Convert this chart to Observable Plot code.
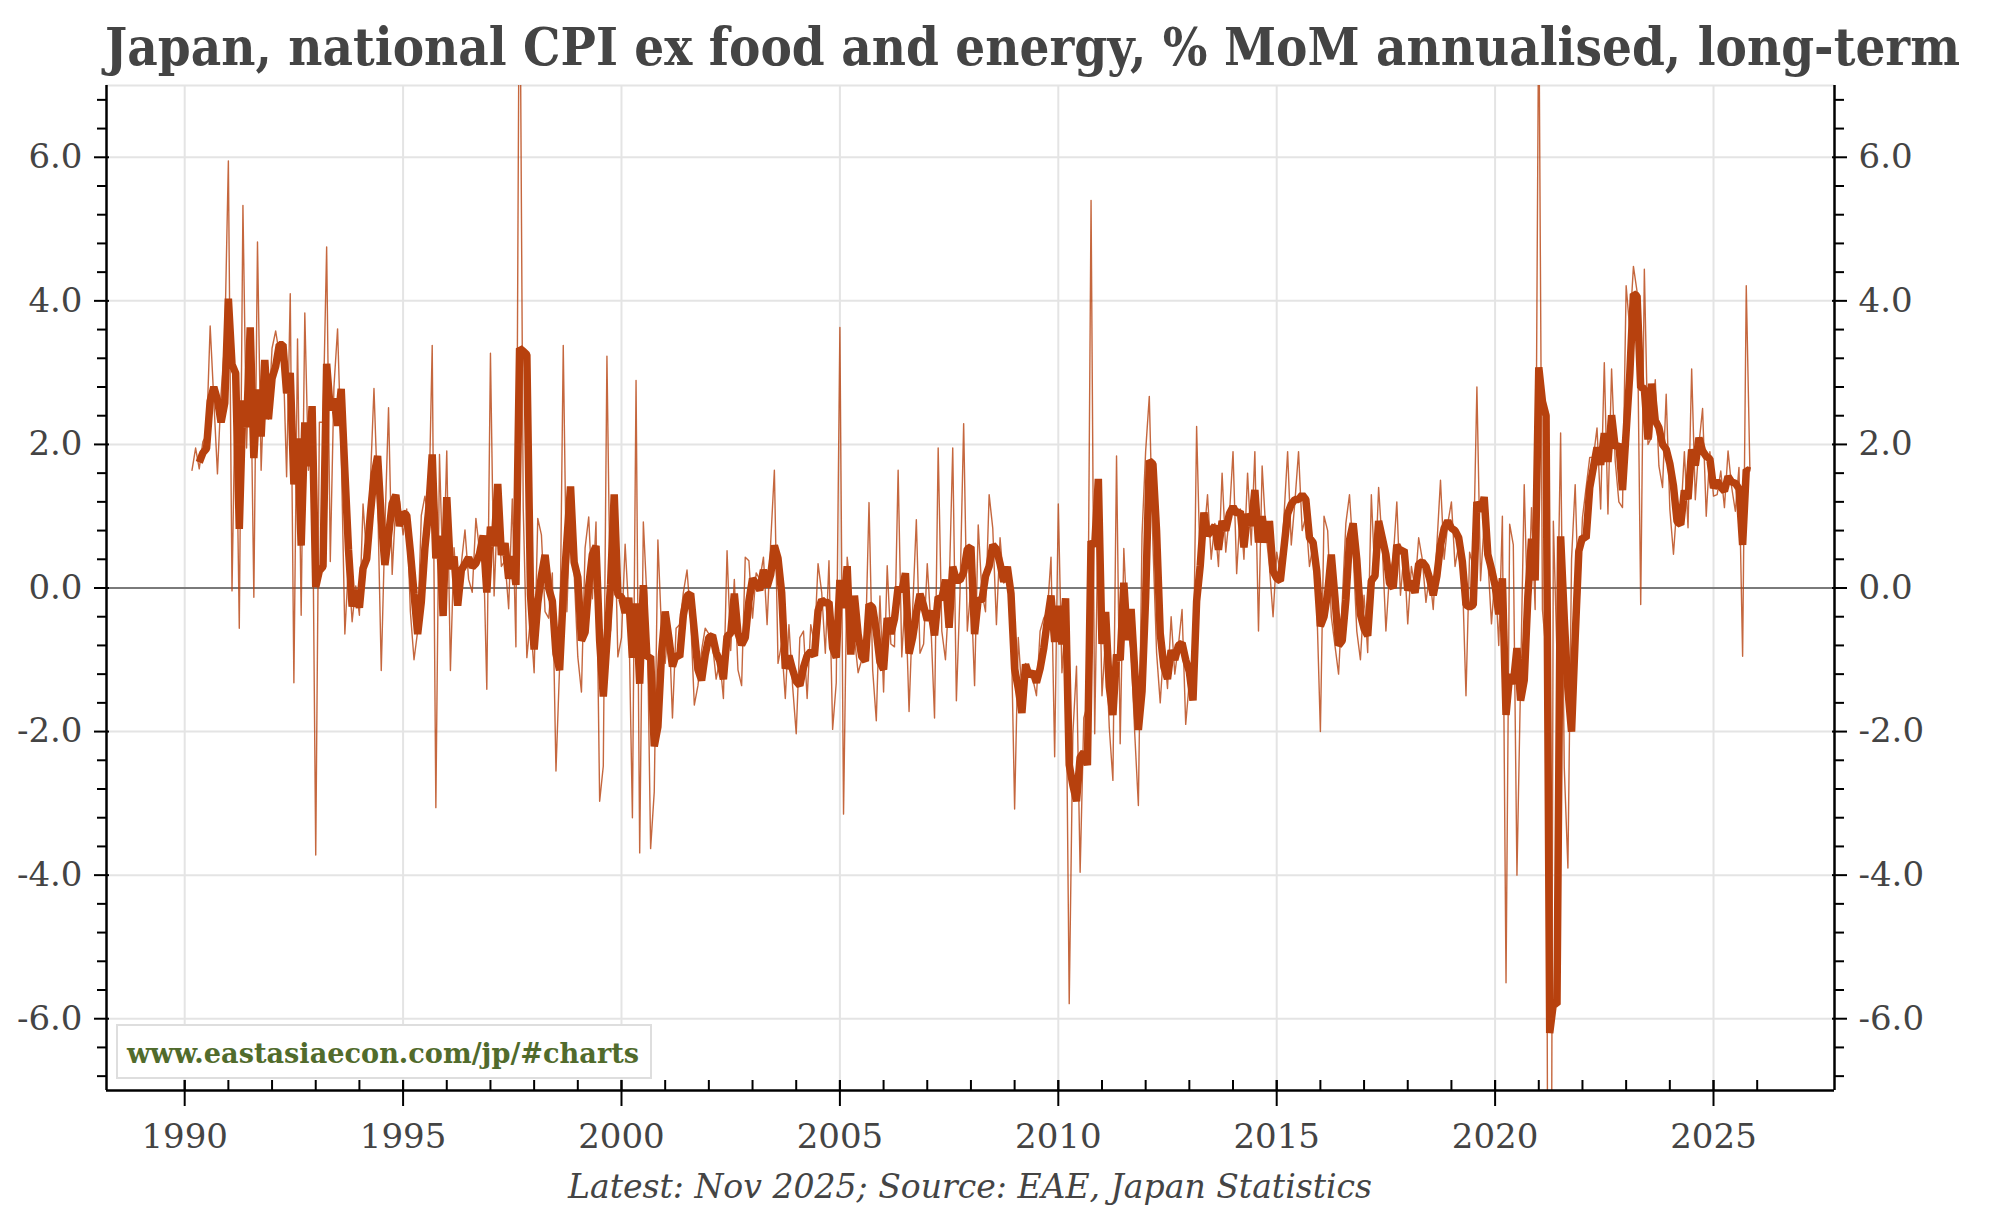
<!DOCTYPE html>
<html>
<head>
<meta charset="utf-8">
<script src="https://cdn.jsdelivr.net/npm/d3@7"></script>
<script src="https://cdn.jsdelivr.net/npm/@observablehq/plot@0.6"></script>
<style>
  html, body { margin: 0; padding: 0; background: #fff; }
  #wrap { position: relative; width: 2000px; height: 1212px; overflow: hidden; font-family: "DejaVu Serif", serif; }
  #title { position: absolute; left: 105px; top: 21px; white-space: nowrap; font-weight: bold; font-size: 52px; line-height: 1; color: #444; transform-origin: left top; display: inline-block; }
  #chart { position: absolute; left: 0; top: 80px; }
  #caption { position: absolute; left: 568px; top: 1170px; white-space: nowrap; font-style: italic; font-size: 33px; line-height: 1; color: #444; transform-origin: left top; display: inline-block; }
  #wm { position: absolute; left: 116px; top: 1024px; width: 536px; height: 55px; box-sizing: border-box; border: 2px solid #dedede; background: #fff; }
  #wmtext { position: absolute; left: 9px; top: 14px; white-space: nowrap; font-weight: bold; font-size: 27px; line-height: 1; color: #516b2c; transform-origin: left top; display: inline-block; }
</style>
</head>
<body>
<div id="wrap">
  <div id="title"></div>
  <div id="chart"></div>
  <div id="wm"><span id="wmtext"></span></div>
  <div id="caption"></div>
</div>
<script>
const titleText = "Japan, national CPI ex food and energy, % MoM annualised, long-term";
const captionText = "Latest: Nov 2025; Source: EAE, Japan Statistics";
const watermarkText = "www.eastasiaecon.com/jp/#charts";

// Monthly series, first value = Mar 1990, last = Nov 2025
const startYear = 1990;
const startMonth = 3;
const mom = [
  1.64, 1.95, 1.66, 2.04, 2.13, 3.65, 2.62, 1.59, 2.71, 3.43,
  5.95, -0.04, 3.07, -0.56, 5.33, 1.95, 3.61, -0.13, 4.82, 1.64,
  3.07, 2.35, 3.34, 3.58, 3.25, 3.34, 1.55, 4.10, -1.32, 3.47,
  -0.38, 3.83, 1.64, 2.13, -3.72, 2.31, 2.31, 4.75, 0.37, 2.80,
  3.61, 1.91, -0.64, 0.34, -0.47, 0.03, -0.38, 1.17, 0.43, 1.46,
  2.78, 1.28, -1.15, 0.83, 2.51, 0.19, 1.19, 1.21, 0.74, 1.10,
  -0.33, -1.00, -0.60, 1.01, 1.28, 0.92, 3.38, -3.06, 1.86, 0.03,
  1.91, -1.15, 0.56, -0.15, 0.34, 0.81, 0.12, -0.06, 0.97, 0.52,
  0.70, -1.41, 3.27, -0.11, 1.19, 0.30, 0.38, -0.29,
  1.24, -0.82, 9.6, 1.12, -0.97, -0.42, -1.18, 0.97, 0.74, -0.33,
  -0.42, 0.21, -2.55, -1.09, 3.38, -0.33, 1.19, 0.21, -0.96, -1.45,
  0.56, 0.99, -0.15, 0.92, -2.97, -2.48, 3.23, -0.60, 1.28, -0.96,
  -0.69, 0.61, -0.33, -3.20, 2.89, -3.69, 0.92, -0.15, -3.63, -2.84,
  0.67, -0.60, -1.05, -0.42, -1.81, -0.56, -0.51, -0.06, 0.25, -0.42,
  -1.63, -1.36, -0.87, -0.56, -0.64, -0.78, -1.27, -1.00, -1.54, 0.52,
  -0.87, 0.12, -1.14, -1.36, 0.43, 0.38, -0.42, 0.21, 0.12, 0.43,
  -0.51, 0.65, 1.64, -1.05, -0.78, -1.54, -0.51, -1.36, -2.03, -0.69,
  -0.60, -1.54, -0.51, -0.78, 0.34,
  -0.06, -0.91, 0.38, -1.97, -1.32, 3.63, -3.15, 0.43, -0.06, -0.69,
  -1.18, -1.00, -0.87, 1.19, -1.14, -1.85, -0.11, -1.45, 0.31, -0.78,
  -0.82, 1.64, -0.96, -0.06, -1.72, -0.29, 0.95, -0.91, -0.78, 0.34,
  -0.51, -1.81, 1.95, -0.60, -1.00, -0.06, 1.95, -1.57, -0.06, 2.29,
  -0.60, 0.03, -1.36, 0.88, -0.06, -0.33, 1.30, 0.83, -0.51, 0.70,
  0.07, 0.12, -0.42, -3.08, -0.69, -1.45, -1.05, -1.18, -1.27, -1.50,
  -0.60, -0.42, -0.33, 0.43, -2.35, 1.17, -1.18, -0.42, -5.79, -2.03,
  -1.09, -3.96, -1.81, -1.63, 5.40, -2.03, 1.19, -1.50, -0.69, -1.94,
  -2.68, 1.84, -2.17, 0.55, -0.56, -0.87, -2.03, -3.03, 0.74, 1.91,
  2.67,
  // 2012 Mar-Dec
  0.6, -0.9, -1.6, -0.8, -1.4, -0.4, -1.2, -0.8, -0.3, -1.9,
  // 2013
  -1.3, -1.5, 2.25, 0.2, 0.7, 1.3, 0.4, 0.9, 0.3, 1.6, 0.5, 1.0,
  // 2014
  1.9, 0.2, 1.1, 0.4, 1.6, 0.6, 1.9, -0.6, 1.7, 0.8, 0.3, -0.4,
  // 2015
  0.5, 0.2, 1.0, 1.9, 0.6, 1.2, 1.9, 0.8, 1.0, 0.3, 0.6, -0.2,
  // 2016
  -2.0, 1.0, 0.8, -0.4, -0.8, -1.2, -0.2, 0.9, 1.3, 0.5, -0.6, -1.0,
  // 2017
  -0.1, -0.9, 1.3, 0.1, 1.4, 0.6, -0.6, 0.2, 0.4, 1.2, -0.1, 0.5,
  // 2018
  -0.5, 0.3, 0.0, 0.7, 0.4, -0.2, 0.2, -0.3, 0.6, 1.5, 0.4, 0.9,
  // 2019
  1.2, 0.3, 0.6, 0.2, -1.5, 0.5, 0.3, 2.8, 0.1, 0.9, 0.4, -0.5,
  // 2020
  0.2, -0.8, 1.0, -5.5, 0.89, 0.6, -4.0, -1.3, 1.44, -0.5, 1.12, -0.3,
  // 2021
  8.4, -0.3, -0.9, -17.4, 0.93, -0.93, 2.16, -2.5, -3.9, 0.4, 1.44, -0.3,
  // 2022
  0.98, 1.4, 1.82, 1.82, 2.23, 1.10, 3.14, 1.03, 3.05, 1.77, 1.2, 1.12,
  // 2023
  4.21, 3.6, 4.48, 4.13, -0.23, 4.44, 2.0, 2.1, 2.9, 1.7, 1.40, 2.70,
  // 2024
  1.1, 0.47, 1.2, 0.98, 1.9, 0.84, 3.05, 1.23, 2.0, 2.5, 1.0, 1.9,
  // 2025 Jan-Nov
  1.28, 1.3, 1.63, 1.12, 1.91, 1.4, 1.07, 1.68, -0.95, 4.21, 1.63
];

const xDomain = [1988.21, 2027.77];
const yDomain = [-7, 7];
const xMajor = [1990, 1995, 2000, 2005, 2010, 2015, 2020, 2025];
const xMinor = [1990, 1991, 1992, 1993, 1994, 1995, 1996, 1997, 1998, 1999, 2000, 2001, 2002, 2003, 2004, 2005, 2006, 2007, 2008, 2009, 2010, 2011, 2012, 2013, 2014, 2015, 2016, 2017, 2018, 2019, 2020, 2021, 2022, 2023, 2024, 2025, 2026];
const yMajor = [-6, -4, -2, 0, 2, 4, 6];
const yMinor = [-6.8, -6.4, -5.6, -5.2, -4.8, -4.4, -3.6, -3.2, -2.8, -2.4, -1.6, -1.2, -0.8, -0.4, 0.4, 0.8, 1.2, 1.6, 2.4, 2.8, 3.2, 3.6, 4.4, 4.8, 5.2, 5.6, 6.4, 6.8];
const yGrid = [-6, -4, -2, 2, 4, 6, 7];

const data = mom.map((v, i) => ({date: startYear + (startMonth - 1 + i) / 12, value: v}));

const lineColor = "#b7410e";
const textColor = "#444";
const fmtY = d => d.toFixed(1);

const chart = Plot.plot({
  width: 2000,
  height: 1080,
  marginTop: 5,
  marginBottom: 70,
  marginLeft: 106,
  marginRight: 166,
  x: {domain: xDomain},
  y: {domain: yDomain},
  style: {fontFamily: "DejaVu Serif", background: "transparent"},
  marks: [
    Plot.ruleX(xMajor, {stroke: "#e4e4e4", strokeWidth: 2}),
    Plot.ruleY(yGrid, {stroke: "#e4e4e4", strokeWidth: 2}),
    Plot.ruleY([0], {stroke: "#7a7a7a", strokeWidth: 2}),
    Plot.lineY(data, {x: "date", y: "value", stroke: lineColor, strokeOpacity: 0.8, strokeWidth: 1.4, clip: true}),
    Plot.lineY(data, Plot.windowY({k: 3, anchor: "end", strict: true, reduce: "mean"},
      {x: "date", y: "value", stroke: lineColor, strokeWidth: 7.5, strokeLinejoin: "bevel", strokeLinecap: "butt", clip: true})),
    Plot.ruleY([yDomain[0]], {stroke: "#000", strokeWidth: 2.5}),
    Plot.ruleX(xDomain, {stroke: "#000", strokeWidth: 2.5}),
    Plot.axisX({ticks: xMinor, tickSize: 10, dy: -10, fill: "none", stroke: "#000", strokeWidth: 2, label: null}),
    Plot.axisX({ticks: xMajor, tickSize: 26, dy: -10, fill: "none", stroke: "#000", strokeWidth: 2, label: null}),
    Plot.axisX({ticks: xMajor, tickSize: 0, tickPadding: 33, tickFormat: d => String(d), fontSize: 34, fill: textColor, label: null}),
    Plot.axisY({anchor: "left", ticks: yMinor, tickSize: 9, fill: "none", stroke: "#000", strokeWidth: 2, label: null}),
    Plot.axisY({anchor: "left", ticks: yMajor, tickSize: 15, dx: 3, fill: "none", stroke: "#000", strokeWidth: 2, label: null}),
    Plot.axisY({anchor: "left", ticks: yMajor, tickSize: 0, tickPadding: 24, tickFormat: fmtY, fontSize: 34, fill: textColor, label: null}),
    Plot.axisY({anchor: "right", ticks: yMinor, tickSize: 9, fill: "none", stroke: "#000", strokeWidth: 2, label: null}),
    Plot.axisY({anchor: "right", ticks: yMajor, tickSize: 15, dx: -3, fill: "none", stroke: "#000", strokeWidth: 2, label: null}),
    Plot.axisY({anchor: "right", ticks: yMajor, tickSize: 0, tickPadding: 24, tickFormat: fmtY, fontSize: 34, fill: textColor, label: null})
  ]
});
document.getElementById("chart").appendChild(chart);

const t = document.getElementById("title");
t.textContent = titleText;
const c = document.getElementById("caption");
c.textContent = captionText;
const w = document.getElementById("wmtext");
w.textContent = watermarkText;

function fit(el, target) {
  const width = el.getBoundingClientRect().width;
  if (width > 0) el.style.transform = `scaleX(${target / width})`;
}
function fitAll() {
  fit(t, 1855);
  fit(c, 804);
  fit(w, 512);
}
fitAll();
if (document.fonts && document.fonts.ready) document.fonts.ready.then(() => { t.style.transform = ""; c.style.transform = ""; w.style.transform = ""; fitAll(); });
</script>
</body>
</html>
